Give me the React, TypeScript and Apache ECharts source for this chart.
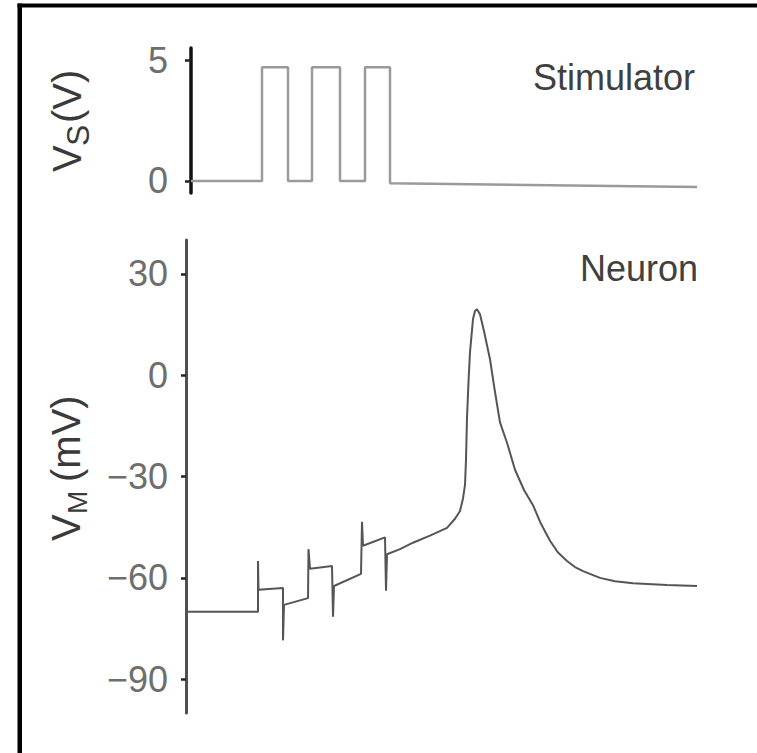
import React, { useEffect, useRef } from "react";
import * as echarts from "echarts";

// Stimulator trace (time in ms, voltage in V)
const stimTime = [1, 15.2, 15.2, 20.4, 20.4, 25.2, 25.2, 30.8, 30.8, 35.8, 35.8, 40.8, 40.8, 102.2];
const stimVolt = [0, 0, 4.7, 4.7, 0, 0, 4.7, 4.7, 0, 0, 4.7, 4.7, -0.1, -0.25];

// Neuron membrane potential (time in ms, voltage in mV)
const neuronTime = [
  0, 14.4, 14.4, 14.5, 19.4, 19.4, 19.6, 24.4, 24.5, 24.8, 29.2, 29.4, 29.6, 35.0, 35.2, 35.4,
  39.8, 40.0, 40.2, 42.8, 45.4, 48.8, 52.2, 53.8, 54.8, 55.4, 55.8, 56.0, 56.2, 56.5, 56.8, 57.4,
  57.8, 58.2, 58.8, 59.6, 60.8, 61.8, 62.8, 64.2, 65.8, 67.6, 69.4, 71.0, 72.8, 74.4, 76.2, 77.8,
  79.4, 82.8, 85.8, 89.4, 96.2, 102.2,
];
const neuronVolt = [
  -70, -70, -55, -63.5, -63, -78.5, -68, -66, -51.5, -57.3, -56.5, -71.5, -62.4, -58.8, -43.4, -50.5,
  -48, -63.8, -53, -51.5, -49.6, -47.5, -45.2, -42.5, -40.2, -36.5, -32.5, -25, -12.7, -2, 6.8, 16.6,
  19, 19.5, 18, 13, 4.7, -5, -14, -20, -28, -34, -38.5, -44, -49, -52.5, -55, -56.8,
  -58, -60, -61, -61.6, -62.1, -62.4,
];

const vsTicks = [0, 5];
const vmTicks = [30, 0, -30, -60, -90];

const FONT = "'Liberation Sans', Arial, sans-serif";

export default function App() {
  const ref = useRef<HTMLDivElement>(null);
  useEffect(() => {
    if (!ref.current) return;
    const chart = echarts.init(ref.current, null, { renderer: "svg" });
    const fmt = (v: number) => (v < 0 ? "\u2212" + Math.abs(v) : String(v));
    const nameText = (x: number, y: number, parts: { t: string; dx: number; dy: number; fs: number }[]) => ({
      type: "group",
      x,
      y,
      rotation: Math.PI / 2,
      children: parts.map((p) => ({
        type: "text",
        x: p.dx,
        y: p.dy,
        style: {
          text: p.t,
          fontSize: p.fs,
          fontFamily: FONT,
          fill: "#3a3a3a",
          textAlign: "left",
          verticalAlign: "middle",
        },
      })),
    });
    chart.setOption({
      animation: false,
      backgroundColor: "#ffffff",
      grid: [
        { left: 191, top: 48, width: 510, height: 145 },
        { left: 186, top: 240, width: 515, height: 473 },
      ],
      xAxis: [
        { gridIndex: 0, type: "value", min: 1, max: 103, show: false },
        { gridIndex: 1, type: "value", min: 0, max: 103, show: false },
      ],
      yAxis: [
        {
          gridIndex: 0,
          type: "value",
          min: -0.5,
          max: 5.5,
          axisLine: { show: true, lineStyle: { color: "#111", width: 3.5 } },
          axisTick: { show: true, length: 6, customValues: vsTicks, lineStyle: { color: "#222", width: 2.5 } },
          axisLabel: { customValues: vsTicks, margin: 23, color: "#6e6e6e", fontSize: 36, fontFamily: FONT, formatter: fmt },
          splitLine: { show: false },
        },
        {
          gridIndex: 1,
          type: "value",
          min: -100,
          max: 40,
          axisLine: { show: true, lineStyle: { color: "#505050", width: 3 } },
          axisTick: { show: true, length: 5, customValues: vmTicks, lineStyle: { color: "#222", width: 2.5 } },
          axisLabel: { customValues: vmTicks, margin: 18, color: "#6e6e6e", fontSize: 36, fontFamily: FONT, formatter: fmt },
          splitLine: { show: false },
        },
      ],
      series: [
        {
          type: "line",
          xAxisIndex: 0,
          yAxisIndex: 0,
          data: stimTime.map((t, i) => [t, stimVolt[i]]),
          showSymbol: false,
          lineStyle: { color: "#9a9a9a", width: 2.5 },
        },
        {
          type: "line",
          xAxisIndex: 1,
          yAxisIndex: 1,
          data: neuronTime.map((t, i) => [t, neuronVolt[i]]),
          showSymbol: false,
          lineStyle: { color: "#555555", width: 2 },
        },
      ],
      graphic: [
        { type: "rect", shape: { x: 17.5, y: 3.5, width: 740, height: 4 }, style: { fill: "#000" } },
        { type: "rect", shape: { x: 17.5, y: 3.5, width: 4.5, height: 750 }, style: { fill: "#000" } },
        {
          type: "text",
          x: 695,
          y: 77,
          style: { text: "Stimulator", fontSize: 36, fontFamily: FONT, fill: "#404040", textAlign: "right", verticalAlign: "middle" },
        },
        {
          type: "text",
          x: 698,
          y: 268,
          style: { text: "Neuron", fontSize: 36, fontFamily: FONT, fill: "#404040", textAlign: "right", verticalAlign: "middle" },
        },
        nameText(67, 172, [
          { t: "V", dx: 0, dy: 0, fs: 40 },
          { t: "S", dx: 26, dy: 11, fs: 32 },
          { t: "(V)", dx: 49, dy: 0, fs: 40 },
        ]),
        nameText(66, 541, [
          { t: "V", dx: 0, dy: 0, fs: 40 },
          { t: "M", dx: 27, dy: 11, fs: 28 },
          { t: "(mV)", dx: 59, dy: 0, fs: 40 },
        ]),
      ],
    });
    return () => chart.dispose();
  }, []);
  return <div ref={ref} style={{ position: "fixed", left: 0, top: 0, width: 757, height: 753 }} />;
}
